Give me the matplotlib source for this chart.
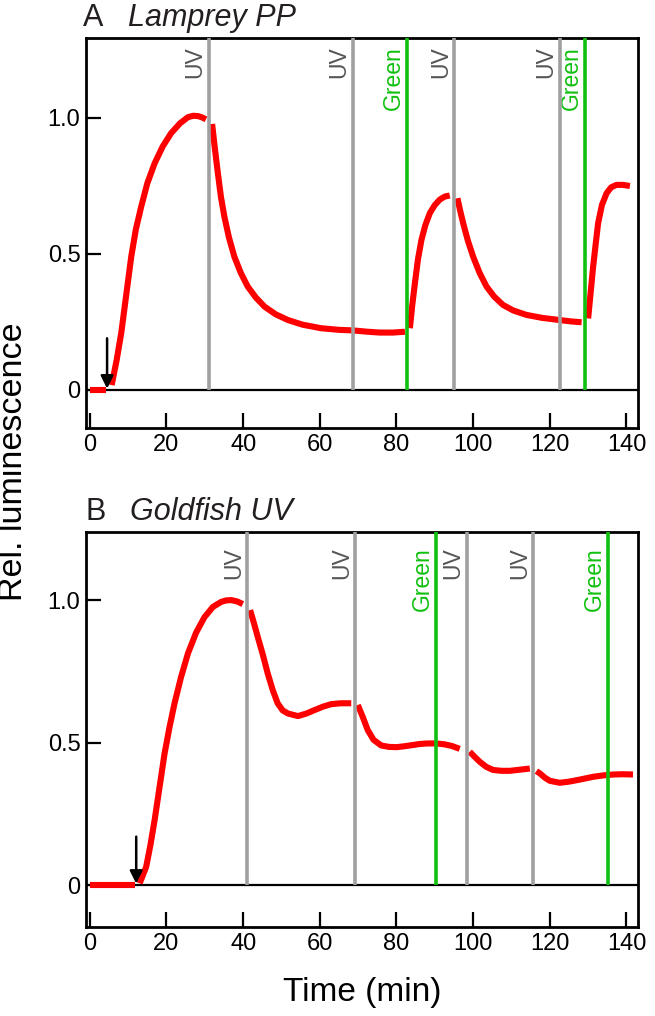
import matplotlib
matplotlib.use("Agg")
import matplotlib.pyplot as plt
import matplotlib.transforms as mtransforms

plt.rcParams["font.family"] = ["Liberation Sans", "DejaVu Sans"]

# ── Data ──────────────────────────────────────────────────────────────────────
# Panel A: Lamprey PP, curve split at the light pulses
A_T = [
    [0, 4.3],
    [5.7, 7, 8.2, 9.5, 10.8, 12, 13.4, 15, 16.9, 19, 21.2, 23.5, 25.6, 27, 28.2, 29.3, 30.3],
    [31.9, 32.6, 33.4, 34.2, 35.1, 36.3, 37.7, 39.4, 41.2, 43.3, 45.6, 48.5, 51.7, 55.5,
     60.3, 65, 68.6, 72.5, 75.7, 79, 82.2],
    [83.5, 84.1, 84.8, 85.6, 86.5, 87.5, 88.7, 90, 91.3, 92.6, 93.9],
    [95.9, 96.6, 97.4, 98.6, 100, 101.7, 103.5, 105.5, 107.8, 110.5, 113.9, 118, 122.6,
     125.5, 128.3],
    [130, 130.6, 131.3, 132, 132.6, 133.6, 134.8, 136, 137.4, 139, 140.9],
]
A_V = [
    [0, 0],
    [0.018, 0.11, 0.21, 0.35, 0.49, 0.59, 0.674, 0.76, 0.833, 0.895, 0.944, 0.98, 1.003,
     1.008, 1.007, 1.002, 0.995],
    [0.978, 0.89, 0.797, 0.71, 0.637, 0.56, 0.49, 0.43, 0.38, 0.34, 0.306, 0.278, 0.257,
     0.24, 0.227, 0.221, 0.219, 0.214, 0.211, 0.211, 0.214],
    [0.227, 0.31, 0.392, 0.48, 0.551, 0.605, 0.65, 0.68, 0.70, 0.711, 0.715],
    [0.705, 0.66, 0.613, 0.55, 0.49, 0.43, 0.38, 0.343, 0.3125, 0.292, 0.276, 0.265,
     0.257, 0.252, 0.249],
    [0.263, 0.35, 0.453, 0.54, 0.613, 0.68, 0.723, 0.745, 0.754, 0.754, 0.75],
]
A_EVENTS = [31.0, 68.6, 82.8, 95.0, 122.6, 129.2]
A_EVENT_KIND = ["UV", "UV", "Green", "UV", "UV", "Green"]
A_ARROW = 4.5

# Panel B: Goldfish UV
B_T = [
    [0, 11.7],
    [13.0, 14.7, 15.8, 16.9, 18.2, 19.5, 20.8, 22.1, 23.8, 25.6, 27.7, 29.9, 32.1, 34.3,
     35.6, 36.9, 38.5, 39.9],
    [41.8, 42.8, 43.8, 45.1, 46.4, 47.7, 49.0, 50.3, 51.7, 54.3, 56.5, 58.6, 60.8, 63.0,
     65.5, 68.2],
    [69.9, 71.2, 72.5, 74, 76, 78, 80, 82, 84, 86, 88, 90.3, 92.5, 94.5, 96.5],
    [99.1, 100.4, 101.7, 103.4, 105.2, 107.4, 109.6, 112.2, 114.8],
    [116.5, 117.4, 118.7, 120.0, 122.6, 125, 127.0, 129.2, 131.3, 134, 136.5, 139, 141.7],
]
B_V = [
    [0, 0],
    [0.006, 0.064, 0.14, 0.228, 0.345, 0.462, 0.555, 0.638, 0.73, 0.813, 0.885, 0.94,
     0.976, 0.994, 0.999, 1.0, 0.995, 0.986],
    [0.965, 0.92, 0.871, 0.81, 0.743, 0.685, 0.638, 0.613, 0.602, 0.593, 0.602, 0.614,
     0.626, 0.635, 0.638, 0.638],
    [0.632, 0.59, 0.544, 0.51, 0.49, 0.485, 0.484, 0.487, 0.491, 0.495, 0.497, 0.497,
     0.494, 0.488, 0.478],
    [0.468, 0.45, 0.433, 0.415, 0.404, 0.401, 0.401, 0.405, 0.409],
    [0.40, 0.392, 0.377, 0.366, 0.359, 0.363, 0.368, 0.374, 0.38, 0.385, 0.388, 0.389,
     0.388],
]
B_EVENTS = [41.0, 69.2, 90.3, 98.3, 115.7, 135.2]
B_EVENT_KIND = ["UV", "UV", "Green", "UV", "UV", "Green"]
B_ARROW = 12.1

X_TICKS = [0, 20, 40, 60, 80, 100, 120, 140]
Y_TICKS = [0, 0.5, 1.0]
Y_TICKLABELS = ["0", "0.5", "1.0"]

# ── Style ─────────────────────────────────────────────────────────────────────
RED = "#ff0000"
GRAY = "#a0a0a0"
GRAY_TXT = "#555555"
GREEN = "#10c010"
LINE_COL = {"UV": GRAY, "Green": GREEN}
TXT_COL = {"UV": GRAY_TXT, "Green": GREEN}

fig = plt.figure(figsize=(6.55, 10.16), dpi=100)
axA = fig.add_axes([0.1313, 0.5787, 0.8427, 0.3839])
axB = fig.add_axes([0.1313, 0.0876, 0.8427, 0.3888])

PANELS = [
    (axA, A_T, A_V, A_EVENTS, A_EVENT_KIND, A_ARROW, (-0.14, 1.294), 0.978, 0.19),
    (axB, B_T, B_V, B_EVENTS, B_EVENT_KIND, B_ARROW, (-0.147, 1.239), 0.962, 0.17),
]

for ax, segs_t, segs_v, events, kinds, arrow_x, ylim, lab_y, arrow_top in PANELS:
    ax.set_xlim(-1.0, 143.0)
    ax.set_ylim(*ylim)

    ax.axhline(0, color="black", lw=1.6, zorder=2)

    for t, v in zip(segs_t, segs_v):
        ax.plot(t, v, color=RED, lw=4.4, solid_capstyle="butt",
                solid_joinstyle="round", zorder=3)

    trans = mtransforms.blended_transform_factory(ax.transData, ax.transAxes)
    for x, kind in zip(events, kinds):
        ax.vlines(x, 0, ylim[1], color=LINE_COL[kind], lw=2.6, zorder=4)
        ax.annotate(kind, xy=(x, lab_y), xycoords=trans,
                    xytext=(-1.5, 0), textcoords="offset points",
                    rotation=90, ha="right", va="top",
                    fontsize=16.5, color=TXT_COL[kind])

    ax.annotate("", xy=(arrow_x, 0.005), xytext=(arrow_x, arrow_top),
                arrowprops=dict(arrowstyle="-|>", color="black", lw=1.8,
                                mutation_scale=19, shrinkA=0, shrinkB=0),
                zorder=5)

    ax.set_xticks(X_TICKS)
    ax.set_yticks(Y_TICKS)
    ax.set_yticklabels(Y_TICKLABELS)
    ax.tick_params(direction="in", length=11, width=1.6, labelsize=17,
                   pad=4, colors="black")
    for s in ax.spines.values():
        s.set_linewidth(2.0)

# ── Titles and labels ─────────────────────────────────────────────────────────
fig.text(0.1267, 0.9744, "A", fontsize=22, color="#231f20", va="baseline")
fig.text(0.1954, 0.9744, "Lamprey PP", fontsize=22, style="italic",
         color="#231f20", va="baseline")
fig.text(0.131, 0.4882, "B", fontsize=22, color="#231f20", va="baseline")
fig.text(0.1985, 0.4882, "Goldfish UV", fontsize=22, style="italic",
         color="#231f20", va="baseline")

fig.text(0.021, 1 - 462 / 1016, "Rel. luminescence", rotation=90,
         ha="center", va="center", fontsize=24.5)
fig.text(362 / 655, 1 - 993 / 1016, "Time (min)", ha="center", va="center",
         fontsize=24)

fig.savefig("out.png", dpi=100, facecolor="white")
